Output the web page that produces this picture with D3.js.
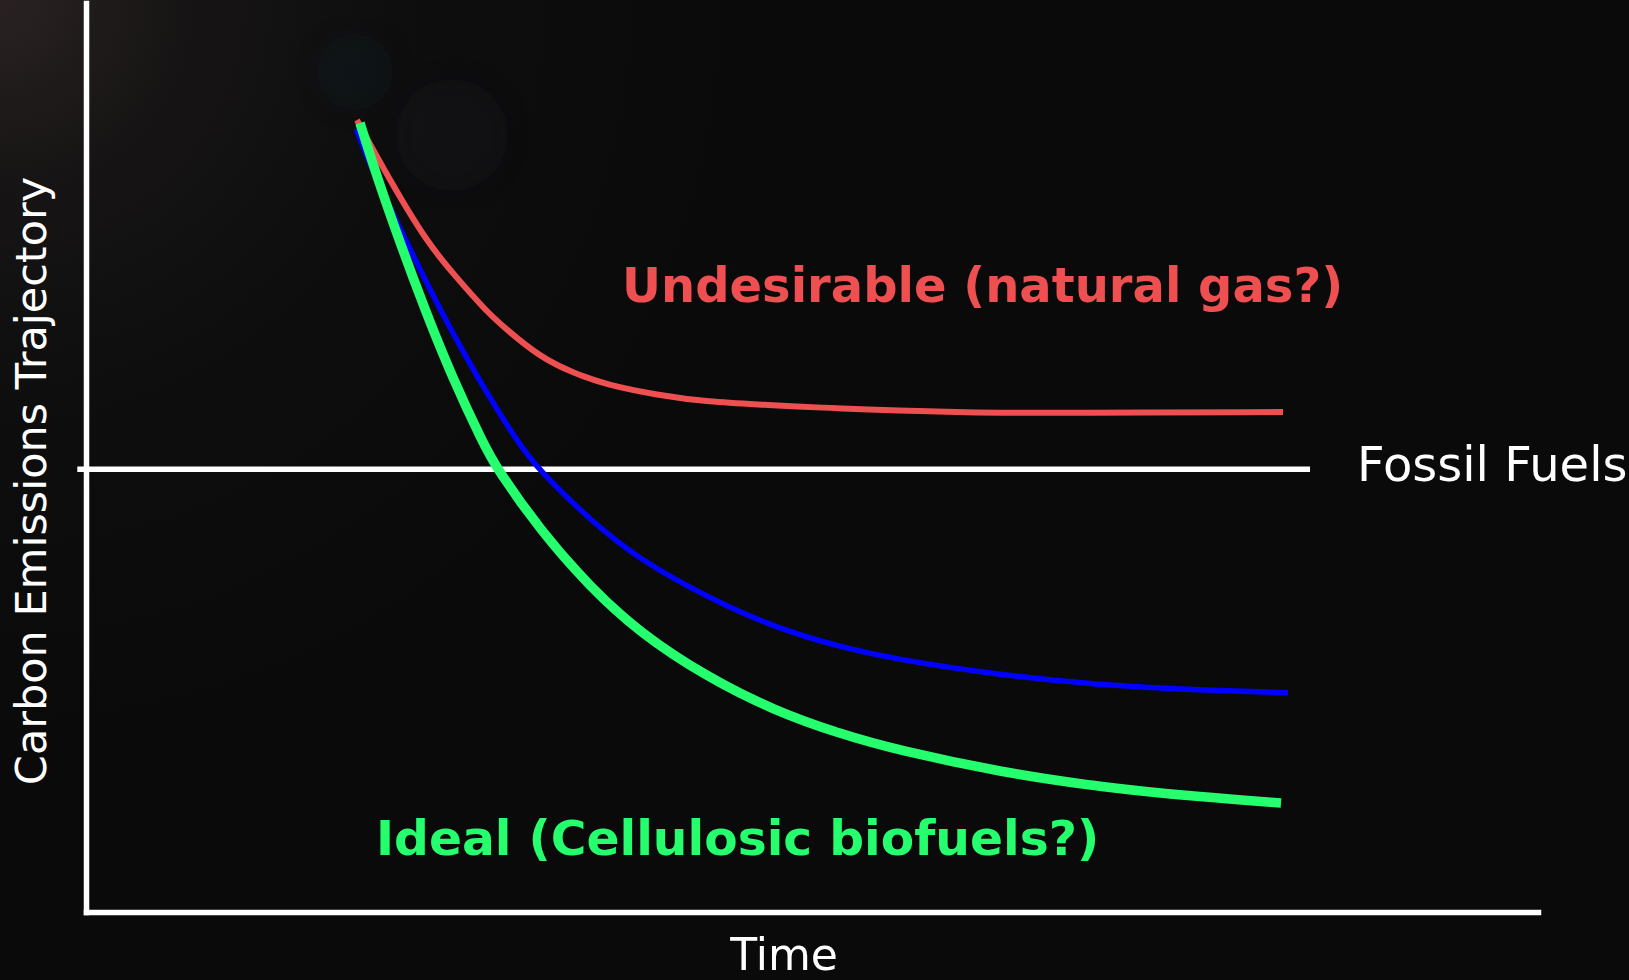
<!DOCTYPE html>
<html>
<head>
  <meta charset="UTF-8">
  <style>
    html, body { margin: 0; padding: 0; background: #0a0a0a; overflow: hidden; }
    svg { display: block; }
    text { font-family: "DejaVu Sans", Verdana, sans-serif; }
  </style>
</head>
<body>
<div id="chart_div"></div>
<script src="https://cdn.jsdelivr.net/npm/d3@7"></script>
<script>

let width = 1629, height = 980;

// time (0-100) and emission level (0-100)
const redTime   = [18.66, 20.80, 23.55, 25.55, 27.48, 28.99, 31.27, 33.54, 35.88, 39.33, 42.77, 47.11, 49.17, 60.67, 67.56, 82.44];
const redValue  = [87.13, 80.86, 73.49, 69.75, 66.23, 64.03, 61.06, 59.30, 57.98, 56.88, 56.11, 55.78, 55.56, 54.90, 54.90, 55.01];

const blueTime  = [18.60, 19.90, 22.11, 24.38, 26.93, 29.75, 31.13, 34.71, 38.15, 42.77, 47.31, 51.93, 56.06, 62.95, 69.83, 76.72, 82.78];
const blueValue = [86.14, 80.86, 73.60, 66.23, 58.86, 51.60, 48.73, 43.12, 38.72, 34.65, 31.35, 29.15, 27.72, 26.07, 24.97, 24.42, 24.13];

const greenTime  = [18.87, 20.04, 21.63, 23.35, 25.21, 27.34, 28.31, 31.27, 34.71, 38.15, 42.77, 47.31, 51.93, 56.06, 62.95, 69.83, 76.72, 82.30];
const greenValue = [86.80, 80.86, 73.60, 66.23, 58.86, 51.60, 48.73, 42.02, 35.75, 30.69, 25.85, 22.22, 19.58, 17.75, 15.40, 13.75, 12.65, 11.99];

const fossilTime  = [-0.6, 84.3];
const fossilValue = [48.7, 48.7];

const labels = {
  undesirable: "Undesirable (natural gas?)",
  ideal: "Ideal (Cellulosic biofuels?)",
  fossil: "Fossil Fuels",
  xTitle: "Time",
  yTitle: "Carbon Emissions Trajectory"
};

let svg = d3.select("#chart_div")
    .append("svg")
    .attr("width", width)
    .attr("height", height);

// background with soft glow top-left
let defs = svg.append("defs");
let glow = defs.append("radialGradient")
    .attr("id", "glow")
    .attr("gradientUnits", "userSpaceOnUse")
    .attr("cx", 0).attr("cy", 0).attr("r", 750);
glow.append("stop").attr("offset", 0).attr("stop-color", "#2a2222");
glow.append("stop").attr("offset", 0.25).attr("stop-color", "#161414");
glow.append("stop").attr("offset", 0.6).attr("stop-color", "#0d0d0d");
glow.append("stop").attr("offset", 1).attr("stop-color", "#0a0a0a");

defs.append("filter").attr("id", "blur")
  .append("feGaussianBlur").attr("stdDeviation", 12);

svg.append("rect")
    .attr("width", width)
    .attr("height", height)
    .attr("fill", "url(#glow)");

// faint lens spots
svg.append("g")
    .attr("filter", "url(#blur)")
    .selectAll("circle")
    .data([[355, 72, 38, 0.13], [452, 135, 56, 0.11]])
    .enter()
      .append("circle")
      .attr("cx", d => d[0])
      .attr("cy", d => d[1])
      .attr("r", d => d[2])
      .attr("fill", "#22304f")
      .attr("opacity", d => d[3]);

// scales
let x = d3.scaleLinear().domain([0, 100]).range([86, 1538]);
let y = d3.scaleLinear().domain([0, 100]).range([912, 3]);

// axes without ticks
svg.append("g")
    .attr("transform", "translate(0," + y(0) + ")")
    .call(d3.axisBottom(x).tickValues([]).tickSizeOuter(0));
svg.append("g")
    .attr("transform", "translate(" + x(0) + ",0)")
    .call(d3.axisLeft(y).tickValues([]).tickSizeOuter(0));

svg.selectAll(".domain")
    .attr("stroke", "#ffffff")
    .attr("stroke-width", 5.5)
    .attr("stroke-linecap", "square");

let zip = (ts, vs) => ts.map((t, i) => [t, vs[i]]);

let line = d3.line()
    .x(d => x(d[0]))
    .y(d => y(d[1]))
    .curve(d3.curveBasis);

// fossil fuel reference line
svg.append("path")
    .datum(zip(fossilTime, fossilValue))
    .attr("d", d3.line().x(d => x(d[0])).y(d => y(d[1])))
    .attr("fill", "none")
    .attr("stroke", "#ffffff")
    .attr("stroke-width", 5.5);

// trajectories
let series = [
  { data: zip(redTime, redValue), color: "#ee4f50", w: 6 },
  { data: zip(blueTime, blueValue), color: "#0000ff", w: 5.5 },
  { data: zip(greenTime, greenValue), color: "#25ff6d", w: 9.5 }
];

svg.append("g")
    .selectAll("path")
    .data(series)
    .enter()
      .append("path")
      .attr("d", d => line(d.data))
      .attr("fill", "none")
      .attr("stroke", d => d.color)
      .attr("stroke-width", d => d.w);

// labels
svg.append("text")
    .attr("x", 622)
    .attr("y", 302)
    .attr("font-size", 48)
    .attr("font-weight", "bold")
    .attr("fill", "#ee4f50")
    .text(labels.undesirable);

svg.append("text")
    .attr("x", 376)
    .attr("y", 855)
    .attr("font-size", 48.7)
    .attr("font-weight", "bold")
    .attr("fill", "#25ff6d")
    .text(labels.ideal);

svg.append("text")
    .attr("x", 1357)
    .attr("y", 481)
    .attr("font-size", 48)
    .attr("fill", "#ffffff")
    .text(labels.fossil);

svg.append("text")
    .attr("x", 784)
    .attr("y", 970)
    .attr("text-anchor", "middle")
    .attr("font-size", 44)
    .attr("fill", "#ffffff")
    .text(labels.xTitle);

svg.append("text")
    .attr("transform", "translate(46,481) rotate(-90)")
    .attr("text-anchor", "middle")
    .attr("font-size", 43)
    .attr("fill", "#ffffff")
    .text(labels.yTitle);

</script>
</body>
</html>
